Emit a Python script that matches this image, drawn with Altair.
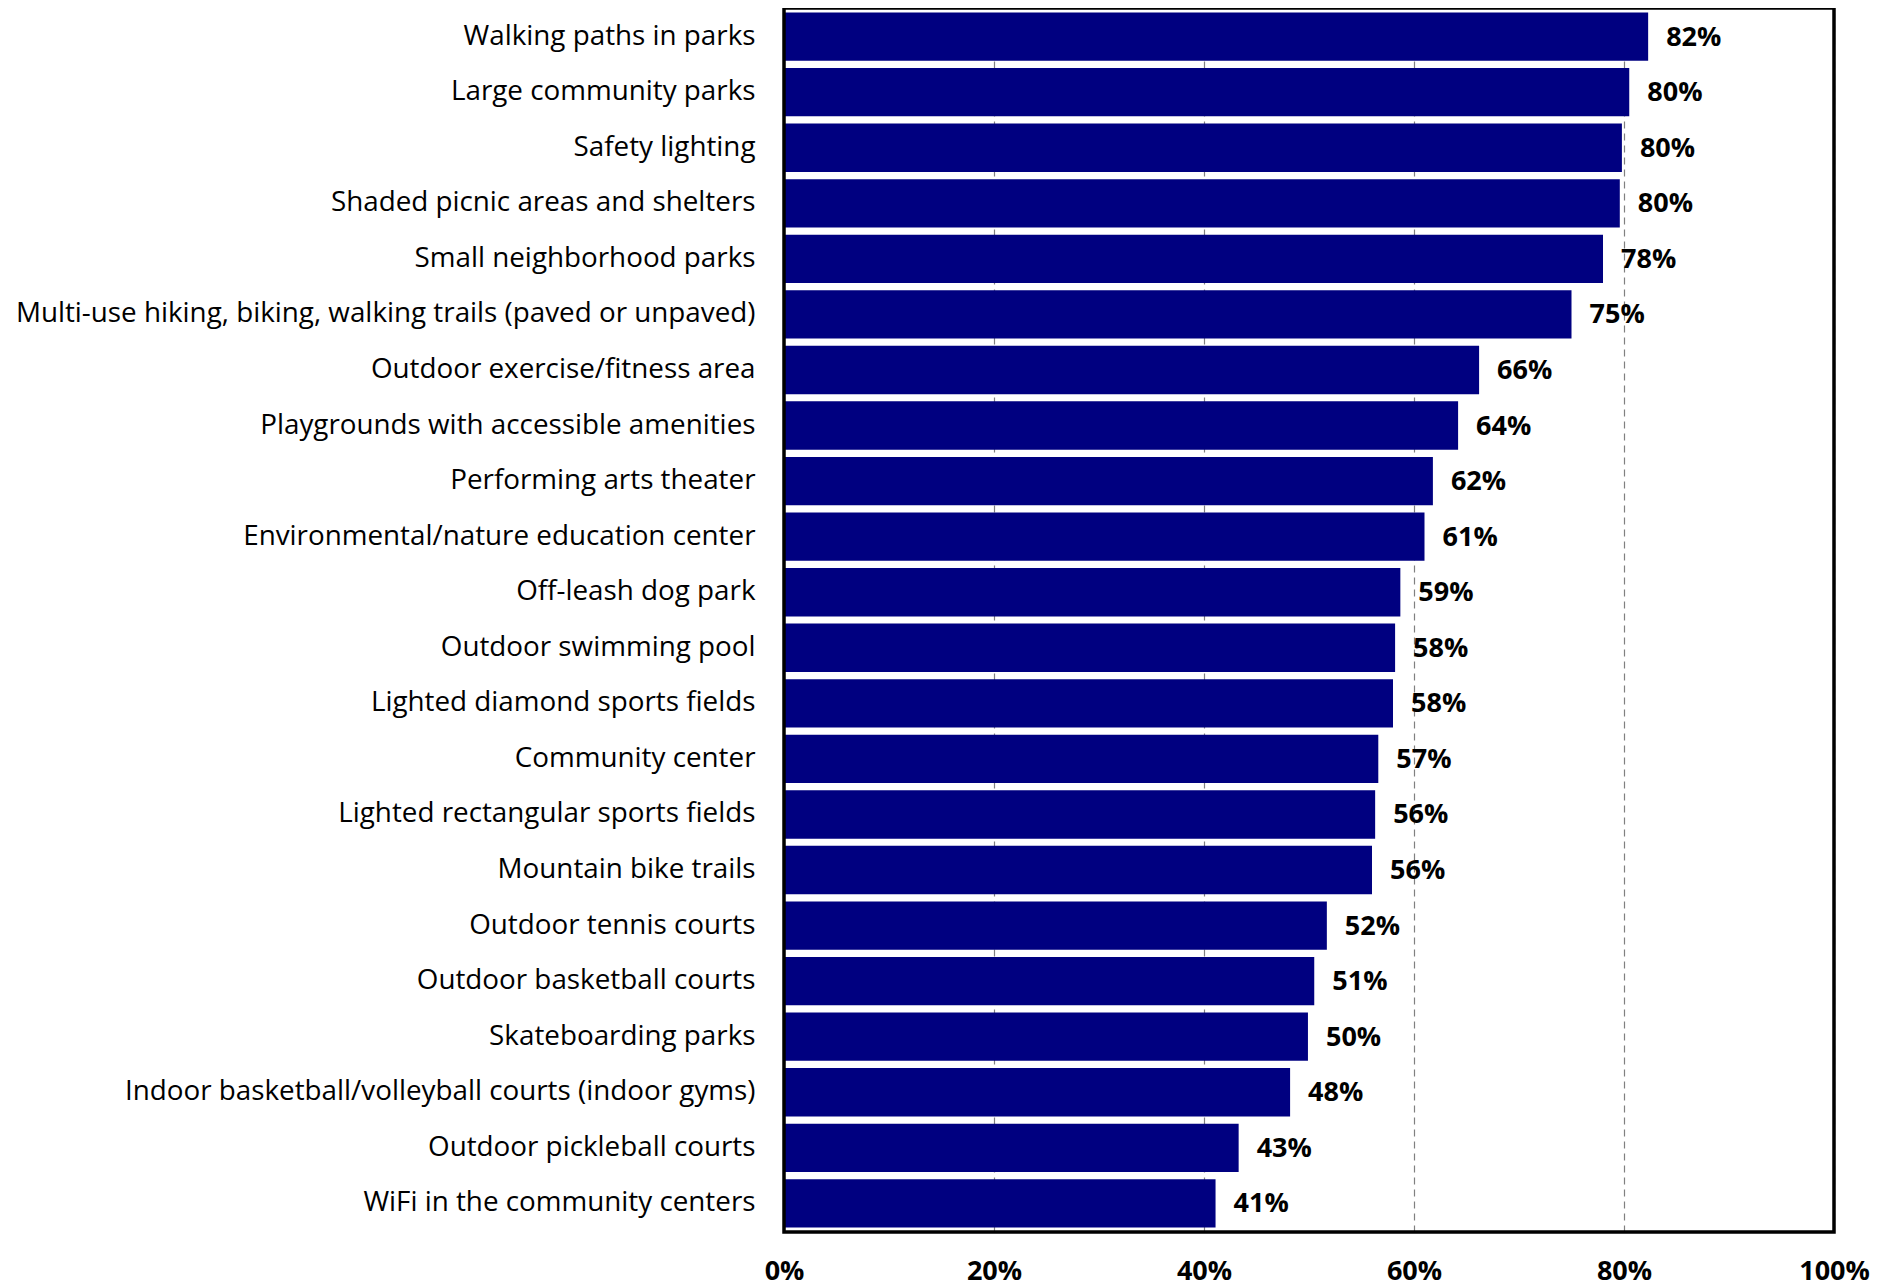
import altair as alt
import pandas as pd

categories = [
    "Walking paths in parks",
    "Large community parks",
    "Safety lighting",
    "Shaded picnic areas and shelters",
    "Small neighborhood parks",
    "Multi-use hiking, biking, walking trails (paved or unpaved)",
    "Outdoor exercise/fitness area",
    "Playgrounds with accessible amenities",
    "Performing arts theater",
    "Environmental/nature education center",
    "Off-leash dog park",
    "Outdoor swimming pool",
    "Lighted diamond sports fields",
    "Community center",
    "Lighted rectangular sports fields",
    "Mountain bike trails",
    "Outdoor tennis courts",
    "Outdoor basketball courts",
    "Skateboarding parks",
    "Indoor basketball/volleyball courts (indoor gyms)",
    "Outdoor pickleball courts",
    "WiFi in the community centers",
]
values = [82.3, 80.5, 79.8, 79.6, 78.0, 75.0, 66.2, 64.2, 61.8, 61.0, 58.7, 58.2,
          58.0, 56.6, 56.3, 56.0, 51.7, 50.5, 49.9, 48.2, 43.3, 41.1]
labels = ["82%", "80%", "80%", "80%", "78%", "75%", "66%", "64%", "62%", "61%", "59%", "58%",
          "58%", "57%", "56%", "56%", "52%", "51%", "50%", "48%", "43%", "41%"]
x_ticks = [0, 20, 40, 60, 80, 100]

df = pd.DataFrame({"cat": categories, "val": values, "lab": labels})

FONT = "Open Sans"
W, H = 1050, 1224

y = alt.Y(
    "cat:N",
    sort=categories,
    title=None,
    scale=alt.Scale(paddingInner=0.13, paddingOuter=0.08),
    axis=alt.Axis(
        labelFontSize=27.8,
        labelFont=FONT,
        labelColor="black",
        labelPadding=29,
        labelLimit=0,
        ticks=False,
        domain=False,
    ),
)
x = alt.X(
    "val:Q",
    title=None,
    scale=alt.Scale(domain=[0, 100], nice=False, zero=True),
    axis=alt.Axis(
        values=x_ticks,
        labelExpr="datum.value + '%'",
        labelFontSize=27,
        labelFont=FONT,
        labelFontWeight="bold",
        labelColor="black",
        labelPadding=26,
        labelFlush=False,
        ticks=False,
        domain=False,
        grid=True,
        gridColor="#808080",
        gridDash=[7, 5],
        gridWidth=1.2,
    ),
)

bars = alt.Chart(df).mark_bar(color="#000080").encode(x=x, y=y)
text = alt.Chart(df).mark_text(
    align="left", baseline="middle", dx=18, dy=1, fontSize=27, font=FONT,
    fontWeight="bold", color="black"
).encode(x=alt.X("val:Q"), y=alt.Y("cat:N", sort=categories), text="lab:N")

border = alt.Chart(pd.DataFrame({"a": [0]})).mark_rect(
    filled=False, stroke="black", strokeWidth=3.5
).encode(
    x=alt.value(0), x2=alt.value(W), y=alt.value(0), y2=alt.value(H)
)

chart = (
    alt.layer(bars, text, border)
    .properties(
        width=W,
        height=H,
        autosize="none",
        padding={"left": 776, "top": 0, "right": 40, "bottom": 60},
    )
    .configure_view(stroke=None)
    .configure(background="white")
)

chart.save("out.html", embed_options={"renderer": "svg", "actions": False})
